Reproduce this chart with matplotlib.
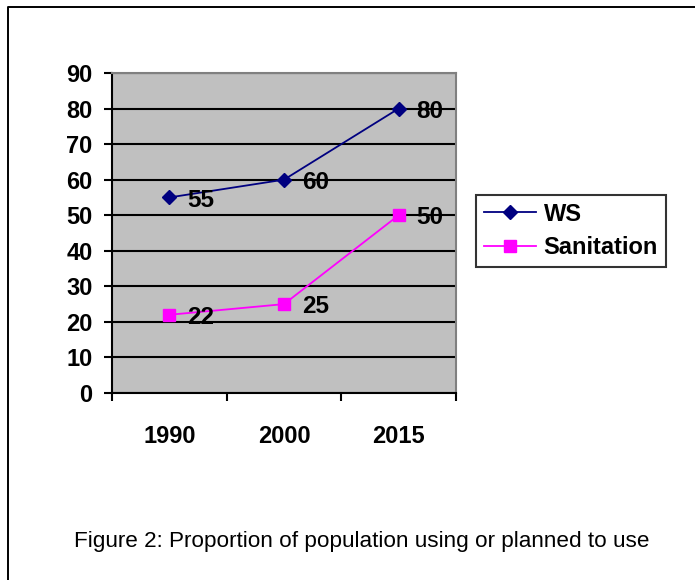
import matplotlib
matplotlib.use("Agg")
import matplotlib.pyplot as plt
from matplotlib.lines import Line2D
from matplotlib.ticker import FixedLocator

plt.rcParams['font.family'] = ['Liberation Sans', 'DejaVu Sans']

years = ["1990", "2000", "2015"]
ws = [55, 60, 80]
sanitation = [22, 25, 50]
y_ticks = list(range(0, 100, 10))
caption = "Figure 2: Proportion of population using or planned to use"

W, H = 695, 580
fig = plt.figure(figsize=(W / 100, H / 100), dpi=100)

# page frame: left and top edges
fig.lines.append(Line2D([8 / W, 8 / W, 1.0], [0.0, 1 - 7 / H, 1 - 7 / H],
                        transform=fig.transFigure, color="black", linewidth=1.4))

ax = fig.add_axes([112 / W, 1 - 393 / H, (456 - 112) / W, (393 - 73) / H])
ax.set_facecolor("#c0c0c0")

x = list(range(len(years)))
ax.plot(x, ws, color="#000080", marker="D", markersize=7.5, linewidth=1.3,
        markerfacecolor="#000080", markeredgecolor="#000080", label="WS", zorder=3)
ax.plot(x, sanitation, color="#ff00ff", marker="s", markersize=8, linewidth=1.3,
        markerfacecolor="#ff00ff", markeredgecolor="#ff00ff", label="Sanitation", zorder=3)

for xi, v in zip(x, ws):
    ax.annotate(str(v), (xi, v), xytext=(13, -2), textcoords="offset points",
                ha="left", va="center", fontsize=17.5, fontweight="bold", zorder=4)
for xi, v in zip(x, sanitation):
    ax.annotate(str(v), (xi, v), xytext=(13, -2), textcoords="offset points",
                ha="left", va="center", fontsize=17.5, fontweight="bold", zorder=4)

ax.set_xlim(-0.5, len(years) - 0.5)
ax.set_ylim(0, 90)
ax.set_yticks(y_ticks)
ax.yaxis.grid(True, color="black", linewidth=1.5)
ax.set_axisbelow(True)

ax.set_xticks(x)
ax.set_xticklabels(years, fontsize=17, fontweight="bold")
ax.xaxis.set_minor_locator(FixedLocator([-0.5, 0.5, 1.5, 2.5]))
ax.tick_params(axis="x", which="major", length=0, pad=23)
ax.tick_params(axis="x", which="minor", length=6, width=1.5, direction="out")
ax.tick_params(axis="y", length=6, width=1.5, direction="out", pad=8, labelsize=17)
for lab in ax.get_yticklabels():
    lab.set_fontweight("bold")

for side in ("left", "bottom"):
    ax.spines[side].set_color("black")
    ax.spines[side].set_linewidth(1.5)
for side in ("top", "right"):
    ax.spines[side].set_color("#808080")
    ax.spines[side].set_linewidth(1.5)

leg = fig.legend(loc="upper left", bbox_to_anchor=(476 / W, 1 - 195 / H),
                 bbox_transform=fig.transFigure, frameon=True, fancybox=False,
                 prop={"size": 17, "weight": "bold"}, handlelength=2.2,
                 handletextpad=0.35, borderpad=0.32, labelspacing=0.45,
                 borderaxespad=0)
leg.get_frame().set_edgecolor("black")
leg.get_frame().set_linewidth(1.5)

fig.text(362 / W, 1 - 541 / H, caption, ha="center", va="center", fontsize=16.2)

fig.savefig("out.png", dpi=100)
